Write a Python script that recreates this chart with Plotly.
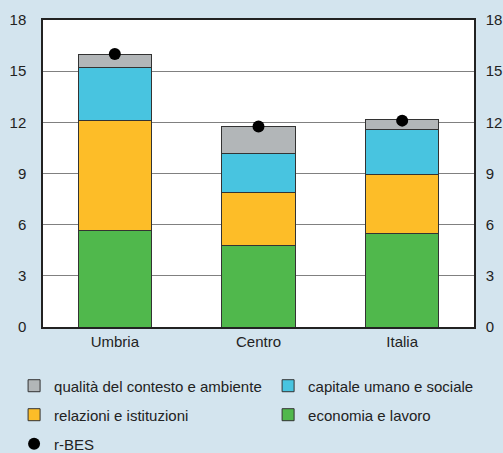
import plotly.graph_objects as go

categories = ["Umbria", "Centro", "Italia"]
economia = [5.65, 4.78, 5.47]
relazioni = [6.45, 3.12, 3.49]
capitale = [3.10, 2.30, 2.64]
qualita = [0.80, 1.56, 0.54]
rbes = [16.0, 11.75, 12.1]
yticks = [0, 3, 6, 9, 12, 15, 18]

BG = "#d3e4ee"
FONT = dict(family="Liberation Sans, Arial, sans-serif", size=15, color="#222222")
line = dict(color="#333333", width=1)

fig = go.Figure()
# (name, values, colour, legend id, legend x, legend y) -- legend positions in container coords
series = [
    ("economia e lavoro", economia, "#50b84c", "legend4", 0.533, 0.084),
    ("relazioni e istituzioni", relazioni, "#fdbd28", "legend3", 0.028, 0.084),
    ("capitale umano e sociale", capitale, "#48c4e0", "legend2", 0.533, 0.148),
    ("qualità del contesto e ambiente", qualita, "#b2b6b8", "legend", 0.028, 0.148),
]
legends = {}
for name, vals, col, lg, lx, ly in series:
    fig.add_trace(go.Bar(x=categories, y=vals, name=name, marker=dict(color=col, line=line),
                         legend=lg))
    legends[lg] = (lx, ly)
fig.add_trace(go.Scatter(x=categories, y=rbes, mode="markers", name="r-BES",
                         marker=dict(color="black", size=12), legend="legend5"))
legends["legend5"] = (0.028, 0.02)
fig.add_trace(go.Scatter(x=categories, y=rbes, mode="markers", yaxis="y2",
                         marker=dict(opacity=0), showlegend=False, hoverinfo="skip"))

axis_common = dict(range=[0, 18], tickvals=yticks, ticks="", tickfont=FONT,
                   showline=True, linecolor="#222222", linewidth=1.5)
for lg, (lx, ly) in legends.items():
    fig.update_layout({lg: dict(orientation="h", xanchor="left", yanchor="middle", font=FONT,
                                bgcolor="rgba(0,0,0,0)", xref="container", yref="container",
                                x=lx, y=ly)})
fig.update_layout(
    width=503, height=453,
    margin=dict(l=43, r=29, t=20, b=126, autoexpand=False),
    paper_bgcolor=BG, plot_bgcolor="white",
    barmode="stack", bargap=0.49,
    font=FONT,
    xaxis=dict(showline=True, mirror=True, linecolor="#222222", linewidth=1.5,
               tickfont=FONT, ticks=""),
    yaxis=dict(**axis_common, mirror=True, showgrid=True, gridcolor="#808080", gridwidth=1,
               zeroline=False, ticklabelstandoff=12),
    yaxis2=dict(**axis_common, overlaying="y", side="right", showgrid=False, zeroline=False,
                ticklabelstandoff=7),
    showlegend=True,
)
fig.write_html("out.html", config={"displayModeBar": False},
               post_script="document.body.style.margin='0';document.body.style.background='%s';" % BG)
